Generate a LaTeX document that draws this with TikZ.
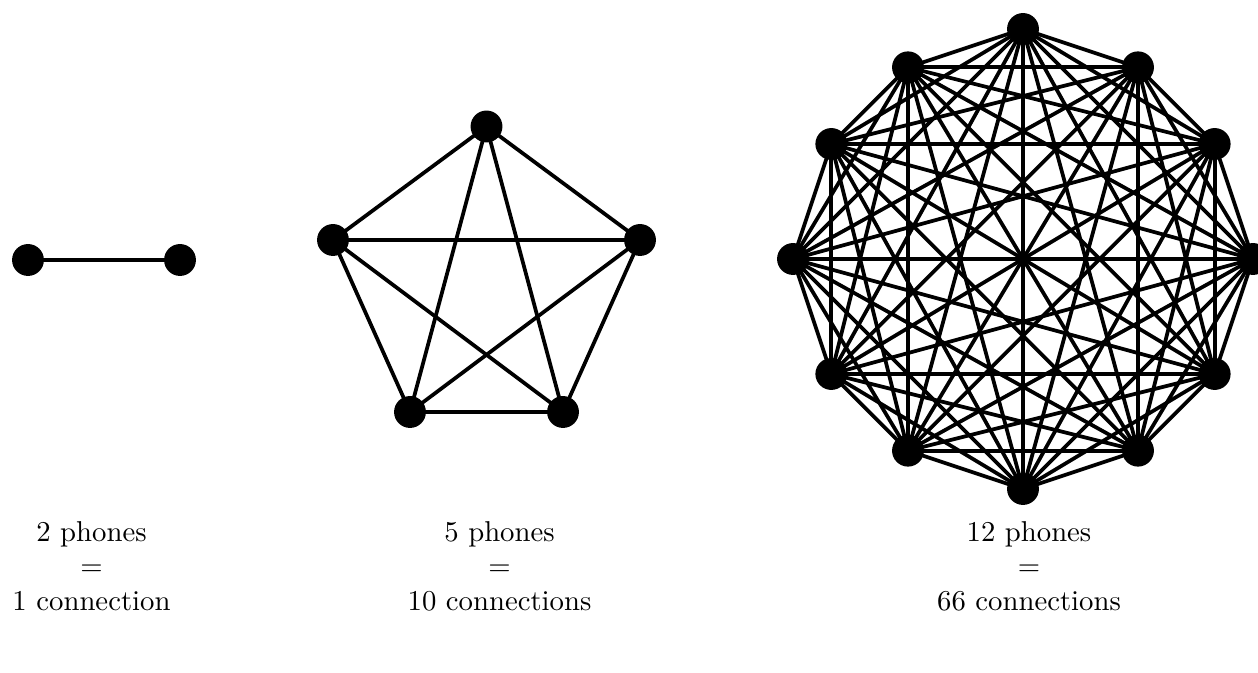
\documentclass[tikz,border=0pt]{standalone}
\pgfdeclarelayer{links}
\pgfsetlayers{links,main}
\begin{document}
\begin{tikzpicture}[x=0.348pt,y=-0.348pt,
  phone/.style={circle,fill=black,inner sep=0pt,minimum size=11.1pt},
  link/.style={line width=1.3pt},
  caption/.style={align=center,inner sep=0pt}]
\useasboundingbox (0,0) rectangle (1258,673);

% two phones
\node[phone] (a1) at (28,260) {};
\node[phone] (a2) at (180,260) {};
\begin{pgfonlayer}{links}
  \draw[link] (a1.center) -- (a2.center);
\end{pgfonlayer}

% five phones
\node[phone] (b1) at (486.5,126.5) {};
\node[phone] (b2) at (333,240) {};
\node[phone] (b3) at (640,240) {};
\node[phone] (b4) at (410,412) {};
\node[phone] (b5) at (563,412) {};
\begin{pgfonlayer}{links}
\foreach \i in {1,...,4}{
  \pgfmathtruncatemacro\s{\i+1}
  \foreach \j in {\s,...,5} \draw[link] (b\i.center) -- (b\j.center);
}
\end{pgfonlayer}

% twelve phones
\begin{scope}[shift={(1023,259)},x=26.68pt,y=26.68pt]
  \foreach \n/\p in {1/{(0,3)},2/{(1.5,2.5)},3/{(2.5,1.5)},4/{(3,0)},
                     5/{(2.5,-1.5)},6/{(1.5,-2.5)},7/{(0,-3)},8/{(-1.5,-2.5)},
                     9/{(-2.5,-1.5)},10/{(-3,0)},11/{(-2.5,1.5)},12/{(-1.5,2.5)}}
    \node[phone] (c\n) at \p {};
\end{scope}
\begin{pgfonlayer}{links}
\foreach \i in {1,...,11}{
  \pgfmathtruncatemacro\s{\i+1}
  \foreach \j in {\s,...,12} \draw[link] (c\i.center) -- (c\j.center);
}
\end{pgfonlayer}

% captions
\node[caption] (t1) at (91.5,566) {2 phones\\$=$\\1 connection};
\node[caption] (t2) at (499.5,566) {5 phones\\$=$\\10 connections};
\node[caption] (t3) at (1029,566) {12 phones\\$=$\\66 connections};
\end{tikzpicture}
\end{document}
